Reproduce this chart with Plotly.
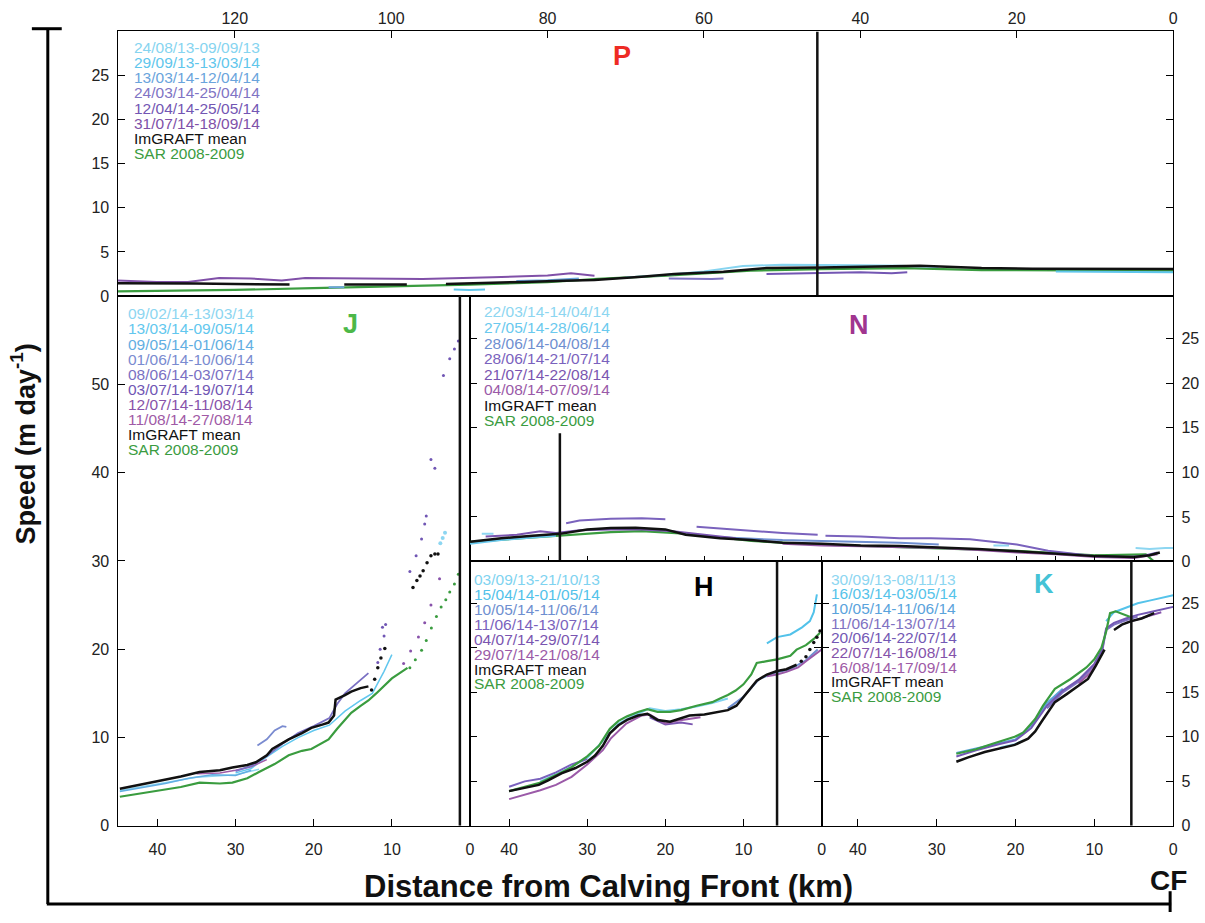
import plotly.graph_objects as go

W, H = 1205, 923
def fx(p): return p / W
def fy(p): return 1 - p / H

BLACK = "#111111"
GREEN = "#3a9c3f"

# ---------------- Panel P ----------------
P_dates = ["24/08/13-09/09/13", "29/09/13-13/03/14", "13/03/14-12/04/14",
           "24/03/14-25/04/14", "12/04/14-25/05/14", "31/07/14-18/09/14"]
P_colors = ["#86d4f0", "#5fc6ec", "#6aa4dc", "#7f74c4", "#7356b3", "#8050a8"]
P_s0_km = [70, 65, 60, 55, 50, 45, 40, 35, 30]
P_s0_v = [2.1, 2.4, 2.8, 3.4, 3.55, 3.55, 3.5, 3.45, 3.3]
P_s1_km = [92, 90, 88, None, 15, 10, 5, 0]
P_s1_v = [0.75, 0.7, 0.75, None, 2.8, 2.75, 2.7, 2.7]
P_s2_km = [108, 106, None, 84, 80, 76]
P_s2_v = [1.0, 1.0, None, 1.7, 1.8, 2.0]
P_s3_km = [64.5, 62, 59, 57.5]
P_s3_v = [2.0, 1.95, 1.95, 2.0]
P_s4_km = [52, 48, 44, 40, 36, 34]
P_s4_v = [2.5, 2.55, 2.6, 2.7, 2.6, 2.7]
P_s5_km = [135, 130, 126, 122, 118, 114, 111, 105, 96, 87, 80, 77, 74]
P_s5_v = [1.76, 1.6, 1.6, 2.05, 2.0, 1.76, 2.05, 2.0, 1.94, 2.13, 2.32, 2.58, 2.3]
P_mean_km = [135, 130, 125, 120, 116, 113, None, 106, 102, 98, None, 93, 88, 83, 78, 74,
             68, 63.8, 57.5, 52, 45, 40, 32.4, 28, 24.5, 18, 10, 5, 0]
P_mean_v = [1.46, 1.4, 1.42, 1.38, 1.35, 1.31, None, 1.31, 1.3, 1.31, None, 1.38, 1.45, 1.6, 1.75, 1.83,
            2.2, 2.5, 2.76, 3.17, 3.25, 3.3, 3.44, 3.3, 3.17, 3.1, 3.06, 3.06, 3.06]
P_sar_km = [135, 120, 110, 100, 90, 80, 73.6, 64.8, 54, 45, 40, 34.3, 24.5, 14.6, 5, 0]
P_sar_v = [0.53, 0.7, 0.9, 1.09, 1.3, 1.57, 1.94, 2.32, 2.88, 3.06, 3.1, 3.17, 2.95, 2.88, 2.88, 2.88]

# ---------------- Panel J ----------------
J_dates = ["09/02/14-13/03/14", "13/03/14-09/05/14", "09/05/14-01/06/14", "01/06/14-10/06/14",
           "08/06/14-03/07/14", "03/07/14-19/07/14", "12/07/14-11/08/14", "11/08/14-27/08/14"]
J_colors = ["#8dd6f1", "#62c7ee", "#62aee2", "#7a8bd0", "#7a70c3", "#7056b4", "#8852aa", "#a05aa6"]
J_s0_km = [44.8, 40, 35, 30, 27]
J_s0_v = [4.0, 4.7, 5.5, 5.8, 6.4]
J_s1_km = [30, 28, 26, 24, 22, 20, 18, 16, 14, 12.5, 11, 10]
J_s1_v = [6.0, 6.5, 7.8, 9.0, 10.0, 10.8, 11.4, 13.0, 14.2, 15.0, 17.5, 19.4]
J_s2_km = [44.8, 42, 39, 36, 33, 30, 28]
J_s2_v = [3.9, 4.3, 4.8, 5.4, 5.8, 5.7, 6.3]
J_s3_km = [27.2, 26, 25, 24, 23.5]
J_s3_v = [9.1, 9.8, 10.8, 11.3, 11.2]
J_s4_km = [30, 28, 26, 24, 22, 20, 18, 17, 16, 15, 14, 13]
J_s4_v = [6.2, 6.8, 7.9, 9.3, 10.5, 11.3, 12.2, 13.8, 15.0, 15.8, 16.5, 17.3]
J_s5_km = [11.8, 11.5, 11.2, 11.0, 10.8, 7.7, 6.9, 6.2, 5.8, 5.6, 5.0, 4.5, 3.4, 2.6, 2.0, 1.5]
J_s5_v = [18.5, 20.0, 22.5, 21.5, 22.8, 28.8, 30.6, 32.5, 34.2, 35.1, 41.5, 40.5, 51.0, 52.9, 54.0, 54.9]
J_s6_km = [8.5, 7.6, 6.6, 5.8, 5.0, 3.9]
J_s6_v = [18.4, 19.8, 21.4, 23.0, 25.0, 28.0]
J_s7_km = [35, 32, 30, 28, 26]
J_s7_v = [5.9, 6.0, 6.3, 6.7, 7.5]
J_cyan_dots_km = [3.8, 3.5, 3.2]
J_cyan_dots_v = [32.0, 32.6, 33.2]
J_mean_km = [44.8, 42, 39.7, 37, 34.6, 32, 30.4, 28.5, 27.4, 26, 25.3, 23.2, 21.5, 20.3,
             18.8, 18.1, 17.4, 17.2, 16, 15.2, 14, 13]
J_mean_v = [4.2, 4.7, 5.1, 5.6, 6.1, 6.3, 6.6, 6.9, 7.2, 8.0, 8.7, 9.8, 10.5, 11.1,
            11.5, 11.7, 12.5, 14.3, 14.8, 15.2, 15.6, 15.8]
J_mean_dots_km = [12.6, 12.2, 11.8, 11.4, 10.9, 7.3, 6.8, 6.4, 6.0, 5.5, 5.0, 4.5, 4.1]
J_mean_dots_v = [15.4, 16.6, 17.9, 19.0, 20.1, 27.0, 27.8, 28.3, 28.9, 29.8, 30.6, 30.8, 30.8]
J_sar_km = [44.8, 42, 39.7, 37, 34.6, 32, 30.4, 28.5, 27, 25, 23.2, 21.5, 20.3, 19, 18.1,
            17, 16, 15.2, 14, 13, 12, 11, 10, 9, 8]
J_sar_v = [3.3, 3.7, 4.0, 4.4, 4.9, 4.8, 4.9, 5.4, 6.1, 7.0, 8.0, 8.5, 8.7, 9.3, 9.8,
           11.0, 12.0, 12.8, 13.6, 14.2, 15.0, 15.8, 16.7, 17.3, 17.9]
J_sar_dots_km = [7.7, 7.0, 6.2, 5.6, 4.95, 4.3, 3.7, 3.1, 2.6, 2.0, 1.5]
J_sar_dots_v = [17.9, 18.8, 19.9, 21.0, 22.4, 23.7, 24.8, 25.6, 26.5, 27.4, 28.5]

# ---------------- Panel N ----------------
N_dates = ["22/03/14-14/04/14", "27/05/14-28/06/14", "28/06/14-04/08/14",
           "28/06/14-21/07/14", "21/07/14-22/08/14", "04/08/14-07/09/14"]
N_colors = ["#8dd6f1", "#6ac9ee", "#6f8fd0", "#7a62bd", "#7a55b0", "#9a5aa8"]
N_s0_km = [88.5, 87, None, 23, 21, None, 4.8, 3, 1, 0]
N_s0_v = [3.1, 3.1, None, 1.8, 1.8, None, 1.5, 1.4, 1.5, 1.5]
N_s1_km = [90, 86, 82, 79]
N_s1_v = [2.0, 2.4, 2.7, 2.9]
N_s2_km = [60, 55, 50, 45, 40, 35, 30]
N_s2_v = [2.8, 2.6, 2.4, 2.3, 2.2, 2.1, 1.9]
N_s3_km = [77.7, 76, 72, 68, 65, None, 61, 58, 54, 50, 45.5, None, 44.5, 40, 35, 31, 26, 20, 16, 13, 10, 6, 4, 2]
N_s3_v = [4.3, 4.6, 4.8, 4.85, 4.75, None, 3.9, 3.7, 3.4, 3.2, 3.0, None, 2.9, 2.8, 2.6, 2.6, 2.5, 1.9, 1.2, 0.9, 0.6, 0.5, 0.6, 1.0]
N_s4_km = [88, 84, 81, 79, 76, 72, 68, 64, 60, 56]
N_s4_v = [2.8, 3.0, 3.4, 3.2, 3.5, 3.6, 3.6, 3.4, 3.0, 2.6]
N_s5_km = [50, 45, 40, 35, 30, 25, 20, 15, 10, 5, 2]
N_s5_v = [2.0, 1.8, 1.7, 1.6, 1.5, 1.3, 1.0, 0.8, 0.5, 0.4, 0.8]
N_mean_km = [90, 86, 82, 78.5, 75, 72, 68.8, 65, 62.4, 58, 54, 50, 45, 40, 35, 30, 25, 20, 15, 10, 5, 3, 1.7]
N_mean_v = [2.2, 2.6, 2.9, 3.1, 3.6, 3.75, 3.8, 3.6, 3.0, 2.6, 2.4, 2.1, 2.0, 1.8, 1.75, 1.6, 1.4, 1.15, 0.9, 0.6, 0.5, 0.7, 1.0]
N_sar_km = [90, 85, 78.5, 72, 68, 62, 54, 45, 35, 20, 10, 5, 3.5, 2.5, 0]
N_sar_v = [2.2, 2.5, 2.9, 3.3, 3.4, 3.1, 2.3, 1.9, 1.6, 1.2, 0.7, 0.75, 0.8, 0.05, 0.05]

# ---------------- Panel H ----------------
H_dates = ["03/09/13-21/10/13", "15/04/14-01/05/14", "10/05/14-11/06/14",
           "11/06/14-13/07/14", "04/07/14-29/07/14", "29/07/14-21/08/14"]
H_colors = ["#7fd3f0", "#52c2ea", "#6f8fd0", "#7a62bd", "#7a55b0", "#9b5aa8"]
H_s0_km = [36, 33, 30, 28, 26, 24, 22, 20, 18, 16, 14, 12]
H_s0_v = [5.0, 6.2, 7.6, 9.5, 11.5, 12.4, 13.2, 12.9, 13.1, 13.4, 13.8, 14.3]
H_s1_km = [7, 5.7, 4, 2.5, 1.5, 1, 0.6]
H_s1_v = [20.5, 21.2, 21.5, 22.3, 23.0, 24.0, 26.0]
H_s2_km = [12, 10, 8, 6, 4, 2, 0.5]
H_s2_v = [13.2, 14.5, 16.5, 17.2, 17.6, 18.6, 19.8]
H_s3_km = [40, 38, 36, 34, 32, 30]
H_s3_v = [4.4, 5.0, 5.3, 6.0, 6.9, 7.5]
H_s4_km = [22, 20, 18, 16.5]
H_s4_v = [12.2, 11.4, 11.6, 11.4]
H_s5_km = [40, 38, 36, 34, 32, 30, 28, 27, 25, 23, 22, 21, 20, 18.5, 17, 15.5, None,
           7, 5.7, 4.5, 3, 2, 1, 0]
H_s5_v = [3.0, 3.5, 4.0, 4.6, 5.5, 6.9, 8.5, 9.8, 11.5, 12.4, 12.5, 12.0, 11.5, 11.8, 12.0, 12.2, None,
          16.8, 17.0, 17.3, 17.8, 18.5, 19.2, 19.8]
H_mean_km = [40, 38, 36.2, 35, 33.3, 31.5, 30, 29, 28, 27.1, 26, 24.9, 23.5, 22.3, 21, 19.4,
             18, 16.9, 15, 13, 12, 10.9, 9.5, 8.3, 7, 5.7, 4.5, 3.2]
H_mean_v = [3.9, 4.3, 4.6, 5.1, 5.9, 6.5, 7.2, 7.9, 9.0, 10.4, 11.3, 11.9, 12.4, 12.6, 11.9, 11.7,
            12.1, 12.4, 12.5, 12.8, 13.0, 13.5, 15.0, 16.3, 17.0, 17.4, 17.6, 18.1]
H_mean_dots_km = [2.6, 2.0, 1.5, 1.0, 0.6, 0.2]
H_mean_dots_v = [18.5, 19.0, 19.8, 20.6, 21.2, 21.9]
H_sar_km = [40, 38, 36.2, 34, 32, 30, 28.5, 27.1, 26, 24.9, 23.5, 22.3, 21, 19.4, 18, 16, 14,
            13, 12, 11, 10, 9, 8.3, 7, 5.7, 4, 3.2, 2, 1, 0.2]
H_sar_v = [3.9, 4.4, 4.8, 5.7, 6.6, 7.8, 9.0, 10.9, 11.8, 12.3, 12.8, 13.1, 12.8, 12.8, 13.0, 13.5, 13.9,
           14.3, 14.7, 15.2, 15.9, 17.0, 18.3, 18.5, 18.7, 19.1, 19.8, 20.3, 21.0, 21.7]

# ---------------- Panel K ----------------
K_dates = ["30/09/13-08/11/13", "16/03/14-03/05/14", "10/05/14-11/06/14", "11/06/14-13/07/14",
           "20/06/14-22/07/14", "22/07/14-16/08/14", "16/08/14-17/09/14"]
K_colors = ["#8dd6f1", "#55c3ea", "#5aa3dc", "#7f72c2", "#7358b4", "#8552aa", "#9e5aa6"]
K_s0_km = [22, 20, 19]
K_s0_v = [8.8, 9.2, 9.6]
K_s1_km = [8.5, 7.5, 6, 4.5, 3, 1.5, 0]
K_s1_v = [23.0, 24.0, 24.5, 25.0, 25.3, 25.6, 25.9]
K_s2_km = [27.5, 25, 22, 20, 18, 16, 14]
K_s2_v = [8.2, 8.7, 9.3, 9.7, 11.3, 13.8, 15.4]
K_s3_km = [16, 14, 12, 10, 9, 8.5, 7.5, 6, 4.5]
K_s3_v = [13.2, 15.0, 16.2, 18.0, 19.6, 22.0, 22.6, 23.1, 23.5]
K_s4_km = [27.5, 25, 22, 20, 18, 16, 14, 12, 10, 9, 8.5, 7.5, 6, 4.5, 3, 1.5, 0]
K_s4_v = [7.8, 8.5, 9.2, 9.6, 11.0, 13.5, 15.2, 16.4, 18.2, 19.8, 22.2, 22.8, 23.3, 23.7, 24.0, 24.3, 24.6]
K_s5_km = [6, 4.5, 3, 1.5]
K_s5_v = [22.8, 23.2, 23.6, 24.0]
K_s6_km = [12, 10.5, 9.5]
K_s6_v = [16.0, 17.2, 18.5]
K_mean_km = [27.5, 26, 23.9, 22, 20.1, 18.4, 17.5, 16.7, 15.9, 15.0, 13.5, 12.5, 10.8, 9.8, 8.7,
             None, 7.5, 6.5, 5.3, 4, 2.4]
K_mean_v = [7.2, 7.7, 8.3, 8.7, 9.1, 9.8, 10.6, 11.7, 12.8, 13.9, 14.8, 15.4, 16.5, 18.0, 19.8,
            None, 22.0, 22.6, 23.0, 23.3, 23.9]
K_sar_km = [27.5, 25, 23, 20.1, 19, 17.5, 16.5, 15, 13, 11, 10, 9.1, 8.5, 8, 7.3, 6.5, 5.5]
K_sar_v = [8.1, 8.6, 9.2, 10.0, 10.5, 12.0, 13.5, 15.4, 16.5, 17.8, 18.7, 20.0, 21.8, 23.9, 24.1, 23.8, 23.5]

# vertical marker lines (km, top speed) per panel
marker_P = [45.5, 30]
marker_J = [1.3, 60]
marker_N = [78.5, 14.4]
marker_H = [5.7, 29.7]
marker_K = [5.3, 29.7]

# axis tick labels
P_ticks = [0, 20, 40, 60, 80, 100, 120]
km_ticks = [0, 10, 20, 30, 40]
speed_ticks_small = [0, 5, 10, 15, 20, 25]
speed_ticks_J = [0, 10, 20, 30, 40, 50]

# ---------------- figure ----------------
fig = go.Figure()

def line(xs, ys, color, width, ax, mode="lines", size=3):
    xa, ya = ax
    if mode == "lines":
        fig.add_trace(go.Scatter(x=xs, y=ys, mode="lines", line=dict(color=color, width=width),
                                 xaxis=xa, yaxis=ya, showlegend=False, hoverinfo="skip"))
    else:
        fig.add_trace(go.Scatter(x=xs, y=ys, mode="markers", marker=dict(color=color, size=size),
                                 xaxis=xa, yaxis=ya, showlegend=False, hoverinfo="skip"))

AP, AJ, AN, AH, AK = ("x", "y"), ("x2", "y2"), ("x3", "y3"), ("x4", "y4"), ("x5", "y5")

# P
line(P_sar_km, P_sar_v, GREEN, 2.2, AP)
line(P_s0_km, P_s0_v, P_colors[0], 2, AP)
line(P_s1_km, P_s1_v, P_colors[1], 2, AP)
line(P_s2_km, P_s2_v, P_colors[2], 2, AP)
line(P_s3_km, P_s3_v, P_colors[3], 2, AP)
line(P_s4_km, P_s4_v, P_colors[4], 2, AP)
line(P_s5_km, P_s5_v, P_colors[5], 2, AP)
line(P_mean_km, P_mean_v, BLACK, 2.5, AP)

# J
line(J_sar_km, J_sar_v, GREEN, 2.2, AJ)
line(J_sar_dots_km, J_sar_dots_v, GREEN, 0, AJ, "markers")
line(J_s0_km, J_s0_v, J_colors[0], 1.5, AJ)
line(J_cyan_dots_km, J_cyan_dots_v, J_colors[0], 0, AJ, "markers", 4)
line(J_s2_km, J_s2_v, J_colors[2], 1.5, AJ)
line(J_s1_km, J_s1_v, J_colors[1], 1.5, AJ)
line(J_s3_km, J_s3_v, J_colors[3], 1.8, AJ)
line(J_s7_km, J_s7_v, J_colors[7], 1.5, AJ)
line(J_s4_km, J_s4_v, J_colors[4], 1.8, AJ)
line(J_s5_km, J_s5_v, J_colors[5], 0, AJ, "markers")
line(J_s6_km, J_s6_v, J_colors[6], 0, AJ, "markers")
line(J_mean_km, J_mean_v, BLACK, 2.5, AJ)
line(J_mean_dots_km, J_mean_dots_v, BLACK, 0, AJ, "markers", 3.5)

# N
line(N_sar_km, N_sar_v, GREEN, 2.2, AN)
line(N_s0_km, N_s0_v, N_colors[0], 2, AN)
line(N_s1_km, N_s1_v, N_colors[1], 2, AN)
line(N_s2_km, N_s2_v, N_colors[2], 2, AN)
line(N_s4_km, N_s4_v, N_colors[4], 2, AN)
line(N_s5_km, N_s5_v, N_colors[5], 2, AN)
line(N_s3_km, N_s3_v, N_colors[3], 2, AN)
line(N_mean_km, N_mean_v, BLACK, 2.5, AN)

# H
line(H_s0_km, H_s0_v, H_colors[0], 2, AH)
line(H_s1_km, H_s1_v, H_colors[1], 2, AH)
line(H_s2_km, H_s2_v, H_colors[2], 2, AH)
line(H_s3_km, H_s3_v, H_colors[3], 2, AH)
line(H_s4_km, H_s4_v, H_colors[4], 2, AH)
line(H_s5_km, H_s5_v, H_colors[5], 2, AH)
line(H_sar_km, H_sar_v, GREEN, 2.2, AH)
line(H_mean_km, H_mean_v, BLACK, 2.5, AH)
line(H_mean_dots_km, H_mean_dots_v, BLACK, 0, AH, "markers", 3.5)

# K
line(K_s0_km, K_s0_v, K_colors[0], 2, AK)
line(K_s1_km, K_s1_v, K_colors[1], 2, AK)
line(K_s2_km, K_s2_v, K_colors[2], 2, AK)
line(K_s3_km, K_s3_v, K_colors[3], 2, AK)
line(K_s4_km, K_s4_v, K_colors[4], 2, AK)
line(K_s5_km, K_s5_v, K_colors[5], 2, AK)
line(K_s6_km, K_s6_v, K_colors[6], 2, AK)
line(K_sar_km, K_sar_v, GREEN, 2.2, AK)
line(K_mean_km, K_mean_v, BLACK, 2.5, AK)

# vertical marker lines drawn as traces from the marker lists
for mk, ax in [(marker_P, AP), (marker_J, AJ), (marker_N, AN), (marker_H, AH), (marker_K, AK)]:
    line([mk[0], mk[0]], [0, mk[1]], BLACK, 2.5, ax)

TICKFONT = dict(family="Liberation Sans, Arial, sans-serif", size=16, color="#222")

def axis(**kw):
    d = dict(showline=True, linecolor="black", linewidth=1.2, mirror=True, ticks="inside",
             ticklen=7, tickwidth=1.3, tickcolor="black", showgrid=False, zeroline=False,
             tickfont=TICKFONT, fixedrange=True)
    d.update(kw)
    return d

xl, xr = 118, 1178
xm = 472
xh = 825
yt, ym1, ym2, yb = 31.7, 299, 567, 834

fig.update_layout(
    width=W, height=H, margin=dict(l=0, r=0, t=0, b=0),
    paper_bgcolor="white", plot_bgcolor="white", showlegend=False,
    xaxis=axis(domain=[fx(xl), fx(xr)], range=[135, 0], side="top", anchor="y",
               tickvals=P_ticks, ticklabelstandoff=0),
    yaxis=axis(domain=[fy(ym1), fy(yt)], range=[0, 30], anchor="x", tickvals=speed_ticks_small,
               mirror="ticks", ticklabelstandoff=4),
    xaxis6=dict(overlaying="x", anchor="y", side="bottom", range=[135, 0],
                tickvals=[0, 10, 20, 30, 40, 50, 60, 70, 80, 90, 100, 110, 120, 130],
                ticks="outside", ticklen=7, tickwidth=1.3, tickcolor="black",
                showticklabels=False, showline=False, showgrid=False, zeroline=False, fixedrange=True),
    xaxis2=axis(domain=[fx(xl), fx(xm)], range=[45.1, 0], anchor="y2", tickvals=km_ticks,
                ticklabelstandoff=9),
    yaxis2=axis(domain=[fy(yb), fy(ym1)], range=[0, 60], anchor="x2", tickvals=speed_ticks_J,
                ticklabelstandoff=4),
    xaxis3=axis(domain=[fx(xm), fx(xr)], range=[90, 0], anchor="y3",
                tickvals=list(range(0, 91, 5)), showticklabels=False, ticklen=5),
    yaxis3=axis(domain=[fy(ym2), fy(ym1)], range=[0, 29.8], anchor="x3", side="right",
                tickvals=speed_ticks_small, mirror="ticks", ticklabelstandoff=4),
    xaxis4=axis(domain=[fx(xm), fx(xh)], range=[45, 0], anchor="y4", tickvals=km_ticks,
                ticklabelstandoff=9),
    yaxis4=axis(domain=[fy(yb), fy(ym2)], range=[0, 29.7], anchor="x4", tickvals=speed_ticks_small,
                mirror="ticks", showticklabels=False),
    xaxis5=axis(domain=[fx(xh), fx(xr)], range=[44.6, 0], anchor="y5", tickvals=km_ticks,
                ticklabelstandoff=9),
    yaxis5=axis(domain=[fy(yb), fy(ym2)], range=[0, 29.7], anchor="x5", side="right",
                tickvals=speed_ticks_small, mirror="ticks", ticklabelstandoff=4),
)

ann = []
LEGFONT = "Liberation Sans, Arial, sans-serif"

def legend(x0, y0, dy, dates, colors):
    entries = list(zip(dates, colors)) + [("ImGRAFT mean", BLACK), ("SAR 2008-2009", GREEN)]
    for i, (t, c) in enumerate(entries):
        ann.append(dict(x=fx(x0), y=fy(y0 + i * dy), xref="paper", yref="paper", text=t,
                        showarrow=False, xanchor="left", yanchor="middle",
                        font=dict(family=LEGFONT, size=15.5, color=c)))

legend(133, 48, 15.3, P_dates, P_colors)
legend(127, 317, 15.2, J_dates, J_colors)
legend(484, 315, 15.7, N_dates, N_colors)
legend(474, 585, 15.1, H_dates, H_colors)
legend(832, 585, 14.8, K_dates, K_colors)

def letter(x, y, t, c):
    ann.append(dict(x=fx(x), y=fy(y), xref="paper", yref="paper", text="<b>%s</b>" % t,
                    showarrow=False, xanchor="center", yanchor="middle",
                    font=dict(family=LEGFONT, size=27, color=c)))

letter(625, 57, "P", "#ee2b24")
letter(352, 327, "J", "#4cb848")
letter(863, 328, "N", "#a0358f")
letter(707, 593, "H", "#000000")
letter(1048, 590, "K", "#45c3d6")

ann.append(dict(x=fx(23), y=fy(448), xref="paper", yref="paper",
                text="<b>Speed (m day<sup>-1</sup>)</b>", textangle=-90, showarrow=False,
                xanchor="center", yanchor="middle",
                font=dict(family=LEGFONT, size=27, color="#111")))
ann.append(dict(x=fx(611), y=fy(895), xref="paper", yref="paper",
                text="<b>Distance from Calving Front (km)</b>", showarrow=False,
                xanchor="center", yanchor="middle",
                font=dict(family=LEGFONT, size=31, color="#111")))
ann.append(dict(x=fx(1173), y=fy(889), xref="paper", yref="paper",
                text="<b>CF</b>", showarrow=False, xanchor="center", yanchor="middle",
                font=dict(family=LEGFONT, size=28, color="#111")))

shapes = [
    dict(type="line", xref="paper", yref="paper", x0=fx(48), x1=fx(48), y0=fy(29), y1=fy(913),
         line=dict(color="black", width=3)),
    dict(type="line", xref="paper", yref="paper", x0=fx(32), x1=fx(62), y0=fy(29), y1=fy(29),
         line=dict(color="black", width=3)),
    dict(type="line", xref="paper", yref="paper", x0=fx(47), x1=fx(1176), y0=fy(913), y1=fy(913),
         line=dict(color="black", width=3)),
    dict(type="line", xref="paper", yref="paper", x0=fx(1175), x1=fx(1175), y0=fy(900), y1=fy(921),
         line=dict(color="black", width=3)),
]

fig.update_layout(annotations=ann, shapes=shapes)
fig.write_html("out.html")
